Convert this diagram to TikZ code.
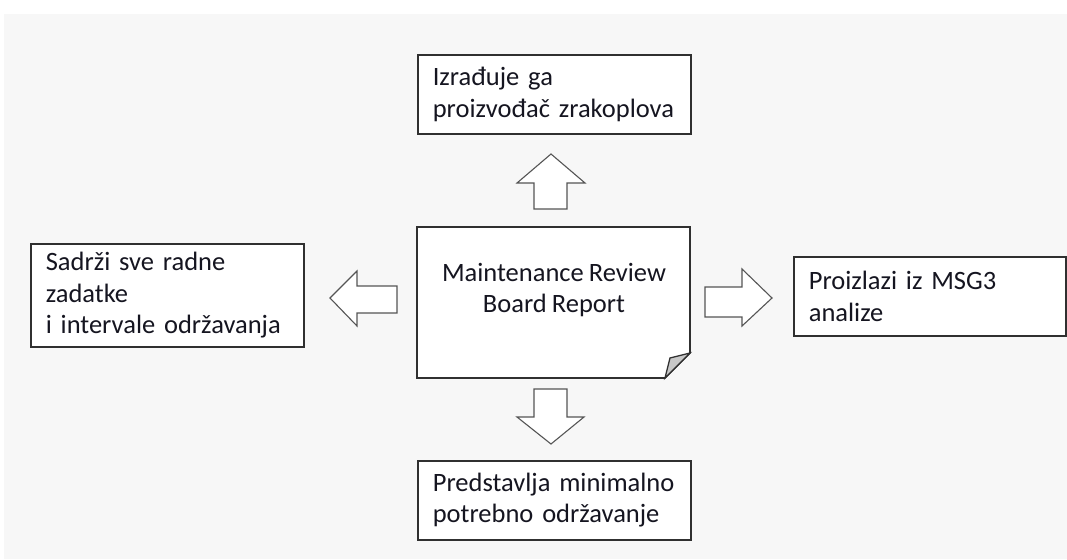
\documentclass[tikz,border=0pt]{standalone}
\usepackage{fontspec}
\setmainfont{Carlito}[WordSpace=0.85]
\hyphenpenalty=10000
\exhyphenpenalty=10000
\definecolor{bggray}{HTML}{F7F7F7}
\definecolor{txt}{HTML}{151520}
\definecolor{edge}{HTML}{303030}
\definecolor{arredge}{HTML}{555555}
\definecolor{foldgray}{HTML}{C8C8C8}
\tikzset{
  infobox/.style={draw=edge, line width=1.6pt, fill=white, anchor=north west, align=left,
    inner xsep=15pt, inner ysep=0pt,
    font=\fontsize{26.5}{31.5}\selectfont, text=txt},
  blockarrow/.style={draw=arredge, line width=1.1pt, fill=white, line join=miter},
  doc/.style={draw=edge, line width=1.6pt, fill=white, line join=miter},
}
\begin{document}
\begin{tikzpicture}[x=1pt,y=-1pt]
\useasboundingbox (0,0) rectangle (1067,559);
\fill[white] (0,0) rectangle (1067,559);
\fill[bggray] (4,14) rectangle (1067,559);

% boxes
\node[infobox, minimum width=273pt, minimum height=79pt, text width=243pt] (top) at (417,54)
  {Izrađuje ga\\proizvođač zrakoplova};
\node[infobox, minimum width=273pt, minimum height=103pt, text width=243pt] (left) at (30,243)
  {Sadrži sve radne\\zadatke\\i intervale održavanja};
\node[infobox, minimum width=272pt, minimum height=79pt, text width=242pt] (right) at (793,256)
  {Proizlazi iz MSG3\\analize};
\node[infobox, minimum width=273pt, minimum height=79pt, text width=243pt] (bottom) at (417,460)
  {Predstavlja minimalno\\potrebno održavanje};

% central document
\coordinate (dTL) at (417,227);
\coordinate (dTR) at (690,227);
\coordinate (dF1) at (690,353);
\coordinate (dF2) at (665,378);
\coordinate (dBL) at (417,378);
\coordinate (dFi) at (670,358);
\draw[doc] (dTL) -- (dTR) -- (dF1) -- (dF2) -- (dBL) -- cycle;
\draw[draw=edge, line width=1.3pt, fill=foldgray, line join=miter] (dF1) -- (dFi) -- (dF2) -- cycle;
\node[font=\fontsize{26.5}{31}\selectfont, text=txt, align=center] (center) at (554,290)
  {Maintenance Review\\Board Report};

% block arrows
% up
\draw[blockarrow] (534,209) -- (534,183) -- (517,183) -- (551,154) -- (585,183) -- (567,183) -- (567,209) -- cycle;
% down
\draw[blockarrow] (534,389) -- (534,417) -- (517,417) -- (551,444) -- (584,417) -- (567,417) -- (567,389) -- cycle;
% left
\draw[blockarrow] (397,286) -- (357,286) -- (357,271) -- (330,298) -- (357,326) -- (357,313) -- (397,313) -- cycle;
% right
\draw[blockarrow] (705,287) -- (742,287) -- (742,269) -- (772,298) -- (742,326) -- (742,317) -- (705,317) -- cycle;
\end{tikzpicture}
\end{document}
